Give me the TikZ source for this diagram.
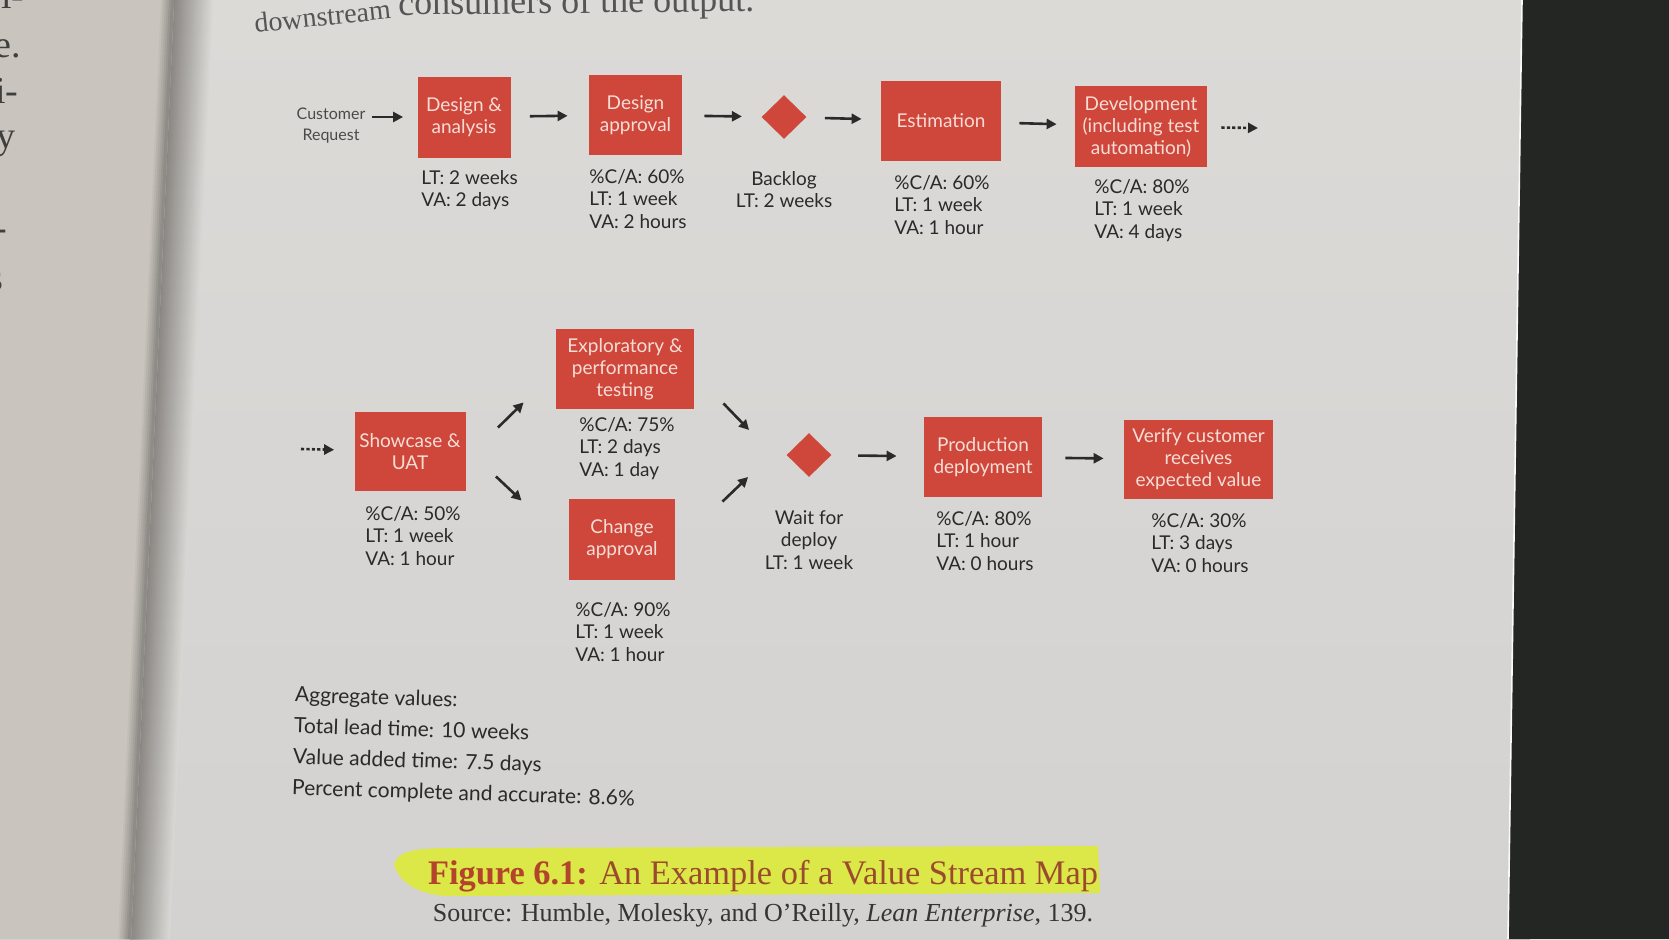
\documentclass[tikz,border=0pt]{standalone}
\usepackage{fontspec}
\setmainfont{Liberation Serif}
\newfontfamily\vsm{Lato}
\usetikzlibrary{shapes.geometric,arrows.meta,calc}
\definecolor{vsred}{HTML}{CF463B}
\definecolor{boxtxt}{HTML}{F6DED6}
\definecolor{ink}{HTML}{2A2A2A}
\definecolor{pagebg}{HTML}{D7D6D4}
\definecolor{pagetop}{HTML}{DBDAD7}
\definecolor{pagebot}{HTML}{D3D2D1}
\definecolor{leftpg}{HTML}{C9C4BD}
\definecolor{gutter}{HTML}{85827E}
\definecolor{desk}{HTML}{232623}
\definecolor{hilite}{HTML}{DCEB3A}
\definecolor{capred}{HTML}{B3432A}
\definecolor{capbrown}{HTML}{9C4A2E}
\begin{document}
\begin{tikzpicture}[x=0.5pt,y=-0.5pt,
  stage/.style={fill=vsred, text=boxtxt, inner sep=0pt, align=center,
    font=\vsm\fontsize{9.5}{11}\selectfont},
  wait/.style={diamond, fill=vsred, inner sep=0pt, minimum width=22.5pt, minimum height=22pt},
  metric/.style={text=ink, inner sep=0pt, align=left, anchor=north west,
    font=\vsm\fontsize{9.5}{11.25}\selectfont},
  cmetric/.style={metric, align=center, anchor=north},
  arr/.style={draw=ink, line width=1.3pt, -{Triangle[length=5pt,width=5pt]}},
  darr/.style={arr, dash pattern=on 1.6pt off 1.1pt},
  margin/.style={text=ink!90, inner sep=0pt, anchor=base east,
    font=\fontsize{19}{23}\selectfont},
]
\useasboundingbox (0,0) rectangle (1669,939);
\clip (0,0) rectangle (1669,939);

% ---- the open book ----
\shade[top color=pagetop, bottom color=pagebot] (0,0) rectangle (1530,939);
% facing page, up to the spine
\fill[leftpg] (0,0) -- (163,0) -- (120,939) -- (0,939) -- cycle;
% shadow of the gutter: nested slanted bands, widest and palest first
\foreach \i in {20,19,...,1} {
  \pgfmathsetmacro\p{100-4.8*\i}
  \fill[color=gutter!\p!pagetop] (173,0) -- ({173+2*\i},0) -- ({130+2*\i},939) -- (130,939) -- cycle;
}
\foreach \i in {6,5,...,1} {
  \pgfmathsetmacro\p{100-15*\i}
  \fill[color=gutter!\p!leftpg] ({173-2*\i},0) -- (174,0) -- (131,939) -- ({130-2*\i},939) -- cycle;
}
\fill[desk] (1522,0) -- (1669,0) -- (1669,939) -- (1508,939) -- cycle;
\draw[white!85!pagebg, line width=0.8pt] (1522,0) -- (1508,939);

% ---- text of the facing page ----
\node[margin] (m0) at (25,8) {l-};
\node[margin] (m1) at (21,57) {e.};
\node[margin] (m2) at (19,103) {i-};
\node[margin] (m3) at (16,148) {y};
\node[margin] (m4) at (8,240) {-};
\node[margin] (m5) at (4,290) {s};

% ---- running text above the figure (the page curls near the gutter) ----
\node[text=ink!80, inner sep=0pt, anchor=base west, rotate=6,
  font=\fontsize{14}{17}\selectfont] (prose1) at (255,33) {downstream};
\node[text=ink!80, inner sep=0pt, anchor=base west, rotate=0.6,
  font=\fontsize{18}{21}\selectfont] (prose2) at (398,15) {consumers of the output.};

% ---- value stream, first row ----
\node[text=ink!85, align=center, inner sep=0pt,
  font=\vsm\fontsize{8}{10.5}\selectfont] (cr) at (331,125.5) {Customer\\Request};
\node[stage, minimum width=46.5pt, minimum height=40.5pt] (da) at (464,117) {Design \&\\analysis};
\node[stage, minimum width=46.5pt, minimum height=40pt] (dap) at (635.5,115) {Design\\approval};
\node[wait] (bl) at (784,117) {};
\node[stage, minimum width=60pt, minimum height=40pt] (est) at (941,121) {Estimation};
\node[stage, minimum width=66pt, minimum height=40.5pt] (dev) at (1141,126.5) {Development\\(including test\\automation)};
\coordinate (cont1) at (1258,128);

\node[metric] (da-m) at (421,170) {LT: 2 weeks\\VA: 2 days};
\node[metric] (dap-m) at (589,169) {\%C/A: 60\%\\LT: 1 week\\VA: 2 hours};
\node[cmetric] (bl-m) at (784,171) {Backlog\\LT: 2 weeks};
\node[metric] (est-m) at (894,175) {\%C/A: 60\%\\LT: 1 week\\VA: 1 hour};
\node[metric] (dev-m) at (1094,179) {\%C/A: 80\%\\LT: 1 week\\VA: 4 days};

\draw[arr, shorten <=3pt, shorten >=7pt] (cr.east |- da.west) -- (da.west);
\draw[arr, shorten <=9.5pt, shorten >=10.5pt] (da) -- (dap);
\draw[arr, shorten <=11pt, shorten >=9.75pt] (dap) -- (bl);
\draw[arr, shorten <=9.25pt, shorten >=9.5pt] (bl) -- (est);
\draw[arr, shorten <=9pt, shorten >=9pt] (est) -- (dev);
\draw[darr, shorten <=7pt] (dev) -- (cont1);

% ---- value stream, second row ----
\coordinate (cont2) at (301,449);
\node[stage, minimum width=55.5pt, minimum height=39.5pt] (sh) at (410,451.5) {Showcase \&\\UAT};
\node[stage, minimum width=69pt, minimum height=40pt] (ex) at (625,369) {Exploratory \&\\performance\\testing};
\node[stage, minimum width=53pt, minimum height=40.5pt] (ca) at (622,539.5) {Change\\approval};
\node[wait] (wd) at (809,455) {};
\node[stage, minimum width=59pt, minimum height=40pt] (pd) at (983,457) {Production\\deployment};
\node[stage, minimum width=74.5pt, minimum height=39.5pt] (vc) at (1198.5,459.5) {Verify customer\\receives\\expected value};

\node[metric] (sh-m) at (365,506) {\%C/A: 50\%\\LT: 1 week\\VA: 1 hour};
\node[metric] (ex-m) at (579,417) {\%C/A: 75\%\\LT: 2 days\\VA: 1 day};
\node[metric] (ca-m) at (575,602) {\%C/A: 90\%\\LT: 1 week\\VA: 1 hour};
\node[cmetric] (wd-m) at (809,510) {Wait for\\deploy\\LT: 1 week};
\node[metric] (pd-m) at (936,511) {\%C/A: 80\%\\LT: 1 hour\\VA: 0 hours};
\node[metric] (vc-m) at (1151,513) {\%C/A: 30\%\\LT: 3 days\\VA: 0 hours};

\draw[darr, shorten >=10pt] (cont2) -- (sh);
\draw[arr] ([shift={(32,16)}]sh.north east) -- ([shift={(-32,-7)}]ex.south west);
\draw[arr] ([shift={(30,-15)}]sh.south east) -- ([shift={(-47,2)}]ca.north west);
\draw[arr] ([shift={(29,-6)}]ex.south east) -- ([shift={(-37,-25)}]wd.west);
\draw[arr] ([shift={(47,3)}]ca.north east) -- ([shift={(-38,22)}]wd.west);
\draw[arr, shorten <=13.25pt, shorten >=13.5pt] (wd) -- (pd);
\draw[arr, shorten <=11.5pt, shorten >=10pt] (pd) -- (vc);

% ---- totals ----
\node[text=ink, inner sep=0pt, align=left, anchor=north west, rotate=-1.8,
  font=\vsm\fontsize{10.5}{15.5}\selectfont] (agg) at (295,686)
  {Aggregate values:\\Total lead time: 10 weeks\\Value added time: 7.5 days\\Percent complete and accurate: 8.6\%};

% ---- caption ----
\fill[hilite, opacity=0.9] (394,864) .. controls (398,850) and (420,848) .. (450,848)
  -- (1098,846) -- (1100,893) -- (450,896) .. controls (420,896) and (398,882) .. cycle;
\node[inner sep=0pt, anchor=base, font=\fontsize{17.2}{20}\selectfont] (cap) at (763,884)
  {\textcolor{capred}{\textbf{Figure 6.1:}} \textcolor{capbrown}{An Example of a Value Stream Map}};
\node[inner sep=0pt, anchor=base, text=ink!95, font=\fontsize{13}{15.5}\selectfont] (src) at (763,921)
  {Source: Humble, Molesky, and O'Reilly, \textit{Lean Enterprise}, 139.};
\end{tikzpicture}
\end{document}
